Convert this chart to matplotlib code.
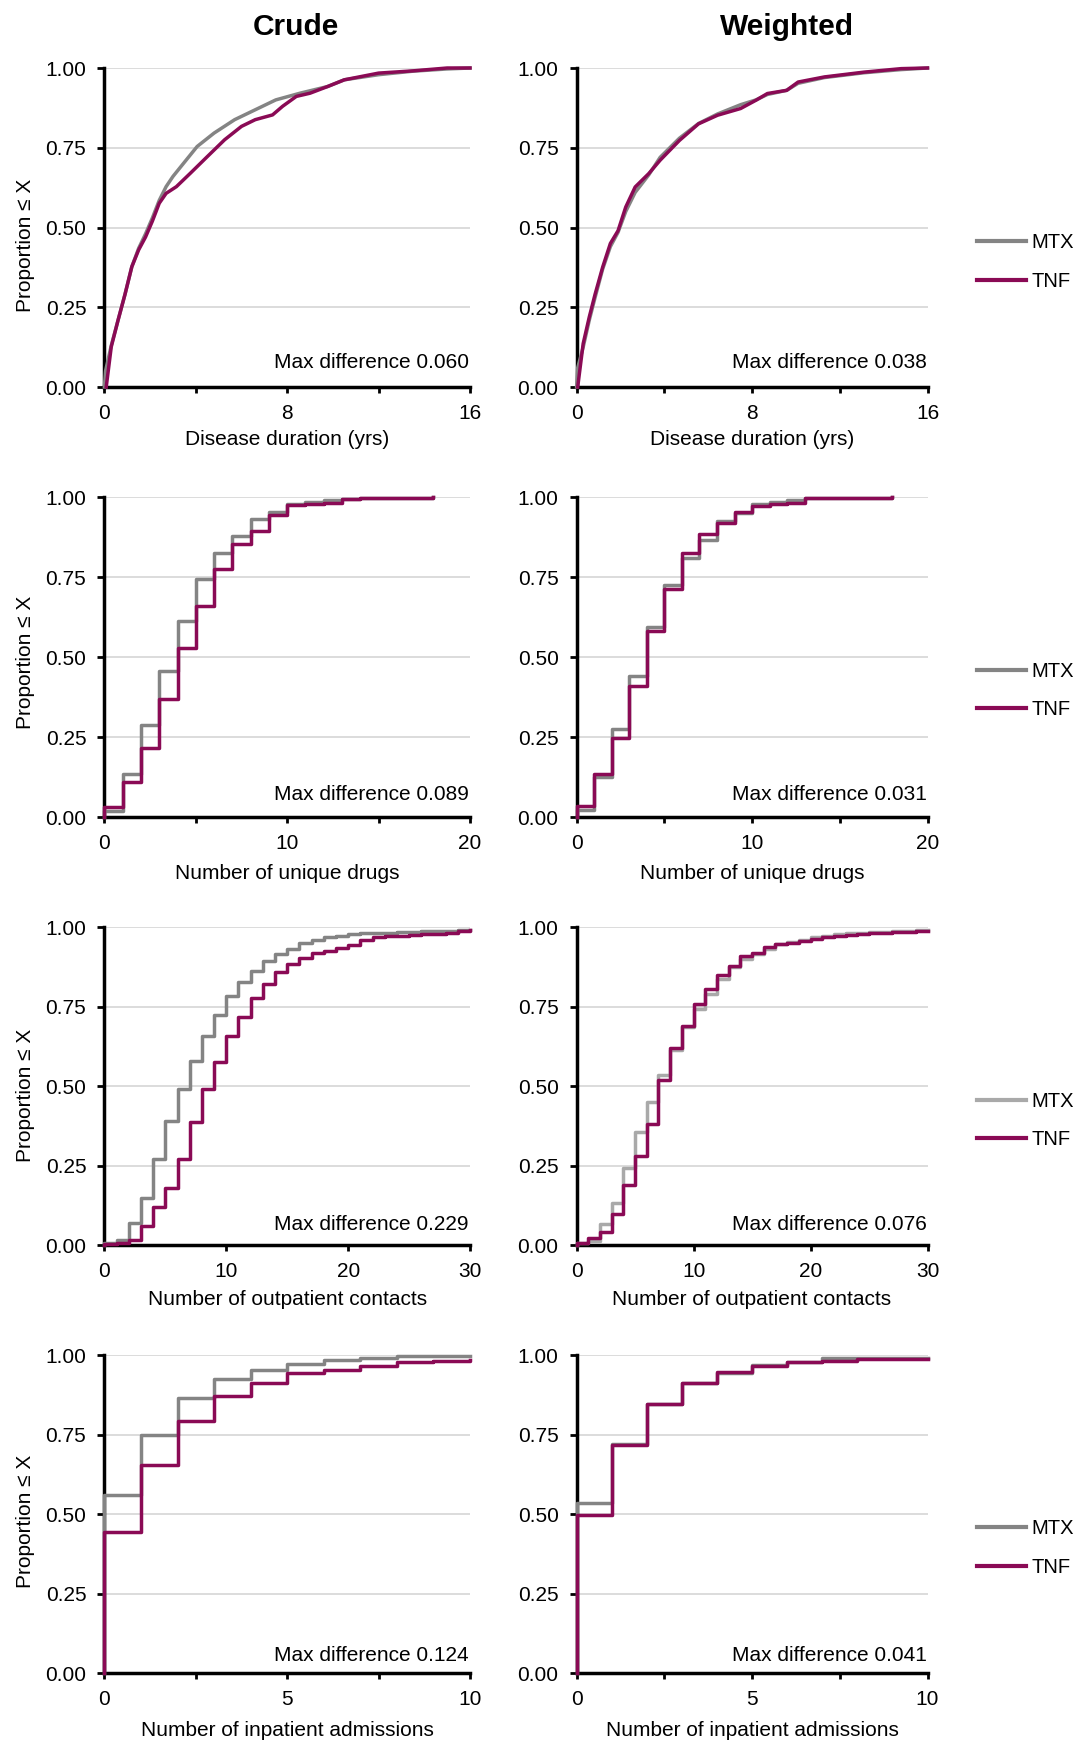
import matplotlib
matplotlib.use("Agg")
import matplotlib.pyplot as plt
from matplotlib.lines import Line2D

plt.rcParams['font.family'] = ['Liberation Sans', 'DejaVu Sans']

W, H = 1081, 1742
MTX_C = '#848484'
MTX_LIGHT = '#a9a9a9'
TNF_C = '#8a0a55'

# ---------------- Row 1: disease duration (continuous ECDF) ----------------
dur_crude_mtx_x = [0, 0.05, 0.3, 0.6, 0.9, 1.2, 1.5, 1.8, 2.1, 2.4, 2.7, 3.0, 3.45, 4.06, 4.8, 5.7, 6.6, 7.5, 8.56, 9.77, 10.5, 12.0, 13.5, 15.0, 16.0]
dur_crude_mtx_y = [0, 0.05, 0.13, 0.21, 0.29, 0.377, 0.435, 0.48, 0.53, 0.585, 0.628, 0.66, 0.70, 0.754, 0.796, 0.838, 0.869, 0.90, 0.921, 0.942, 0.963, 0.979, 0.99, 0.997, 1.0]
dur_crude_tnf_x = [0.08, 0.3, 0.6, 0.9, 1.2, 1.5, 1.8, 2.1, 2.4, 2.7, 3.15, 3.76, 4.5, 5.26, 6.0, 6.6, 7.36, 7.8, 8.4, 9.0, 9.77, 10.5, 12.0, 13.5, 15.0, 16.0]
dur_crude_tnf_y = [0, 0.126, 0.21, 0.29, 0.377, 0.43, 0.47, 0.52, 0.576, 0.607, 0.628, 0.67, 0.722, 0.775, 0.817, 0.838, 0.853, 0.88, 0.911, 0.921, 0.942, 0.963, 0.984, 0.991, 1.0, 1.0]

dur_w_mtx_x = [0, 0.05, 0.3, 0.58, 0.84, 1.19, 1.54, 1.89, 2.24, 2.67, 3.29, 3.81, 4.69, 5.56, 6.43, 7.48, 8.18, 8.7, 9.58, 10.1, 11.3, 13.1, 14.8, 16.0]
dur_w_mtx_y = [0, 0.06, 0.125, 0.21, 0.28, 0.37, 0.44, 0.485, 0.55, 0.61, 0.665, 0.72, 0.78, 0.826, 0.856, 0.885, 0.9, 0.917, 0.93, 0.952, 0.97, 0.985, 0.995, 1.0]
dur_w_tnf_x = [0.05, 0.3, 0.58, 0.84, 1.19, 1.54, 1.89, 2.24, 2.67, 3.29, 3.81, 4.69, 5.56, 6.43, 7.48, 8.18, 8.7, 9.58, 10.1, 11.3, 13.1, 14.8, 16.0]
dur_w_tnf_y = [0, 0.136, 0.22, 0.29, 0.376, 0.45, 0.49, 0.564, 0.627, 0.669, 0.711, 0.773, 0.825, 0.852, 0.873, 0.899, 0.92, 0.93, 0.956, 0.972, 0.987, 0.998, 1.0]

# ---------------- Row 2: number of unique drugs (step) ----------------
drugs_x = list(range(0, 19))
drugs_crude_mtx = [0.02, 0.133, 0.286, 0.456, 0.611, 0.743, 0.825, 0.877, 0.93, 0.953, 0.977, 0.984, 0.99, 0.995, 0.998, 0.998, 0.998, 0.998, 1.0]
drugs_crude_tnf = [0.031, 0.109, 0.217, 0.369, 0.529, 0.658, 0.776, 0.854, 0.894, 0.943, 0.974, 0.979, 0.982, 0.995, 0.997, 0.997, 0.997, 0.998, 1.0]
drugs_w_mtx = [0.021, 0.125, 0.276, 0.44, 0.594, 0.724, 0.81, 0.867, 0.925, 0.951, 0.977, 0.984, 0.99, 0.996, 0.996, 0.996, 0.996, 0.997, 1.0]
drugs_w_tnf = [0.033, 0.133, 0.247, 0.409, 0.581, 0.711, 0.825, 0.885, 0.919, 0.953, 0.972, 0.979, 0.982, 0.996, 0.996, 0.996, 0.996, 0.998, 1.0]

# ---------------- Row 3: outpatient contacts (step) ----------------
outp_x = list(range(0, 31))
outp_crude_mtx = [0.005, 0.016, 0.07, 0.149, 0.272, 0.39, 0.491, 0.58, 0.658, 0.723, 0.782, 0.826, 0.861, 0.893, 0.914, 0.932, 0.949, 0.959, 0.967, 0.972, 0.977, 0.98, 0.98, 0.981, 0.984, 0.985, 0.987, 0.987, 0.987, 0.992, 0.992]
outp_crude_tnf = [0.002, 0.007, 0.016, 0.06, 0.118, 0.178, 0.269, 0.387, 0.491, 0.575, 0.658, 0.718, 0.776, 0.82, 0.86, 0.885, 0.902, 0.918, 0.925, 0.935, 0.943, 0.959, 0.967, 0.972, 0.972, 0.975, 0.977, 0.979, 0.982, 0.987, 0.99]
outp_w_mtx = [0.005, 0.014, 0.066, 0.131, 0.243, 0.356, 0.45, 0.534, 0.613, 0.686, 0.743, 0.79, 0.838, 0.874, 0.9, 0.916, 0.932, 0.948, 0.953, 0.96, 0.967, 0.971, 0.977, 0.981, 0.981, 0.984, 0.984, 0.987, 0.987, 0.991, 0.991]
outp_w_tnf = [0.005, 0.021, 0.042, 0.096, 0.19, 0.28, 0.38, 0.518, 0.62, 0.689, 0.759, 0.806, 0.848, 0.876, 0.908, 0.919, 0.937, 0.945, 0.95, 0.955, 0.962, 0.967, 0.972, 0.976, 0.977, 0.98, 0.981, 0.984, 0.985, 0.986, 0.987]

# ---------------- Row 4: inpatient admissions (step) ----------------
inp_x = list(range(0, 11))
inp_crude_mtx = [0.559, 0.75, 0.864, 0.923, 0.953, 0.972, 0.984, 0.992, 0.996, 0.996, 0.997]
inp_crude_tnf = [0.442, 0.654, 0.793, 0.871, 0.913, 0.942, 0.953, 0.966, 0.977, 0.982, 0.985]
inp_w_mtx = [0.536, 0.72, 0.846, 0.911, 0.942, 0.969, 0.977, 0.992, 0.991, 0.991, 0.991]
inp_w_tnf = [0.496, 0.717, 0.846, 0.911, 0.945, 0.965, 0.977, 0.982, 0.987, 0.987, 0.987]

max_diff_crude = ['0.060', '0.089', '0.229', '0.124']
max_diff_weighted = ['0.038', '0.031', '0.076', '0.041']
xlabels = ['Disease duration (yrs)', 'Number of unique drugs',
           'Number of outpatient contacts', 'Number of inpatient admissions']
x_ticks = [[0, 4, 8, 12, 16], [0, 5, 10, 15, 20], [0, 10, 20, 30], [0, 2.5, 5, 7.5, 10]]
x_ticklabels = [['0', '', '8', '', '16'], ['0', '', '10', '', '20'],
                ['0', '10', '20', '30'], ['0', '', '5', '', '10']]
x_max = [16, 20, 30, 10]
y_ticks = [0, 0.25, 0.5, 0.75, 1.0]
series_names = ['MTX', 'TNF']
col_titles = ['Crude', 'Weighted']

# ---------------- layout (pixels) ----------------
row_top = [68, 497, 927, 1355]
row_bot = [387, 817, 1245, 1673]
col_left = [104.4, 576.6]
col_right = [470, 927.5]
xlabel_pad = [5.5, 8.5, 7, 9]
ylabel_y = [0.445, 0.484, 0.469, 0.478]
maxdiff_y = [0.076, 0.070, 0.064, 0.055]
legend_y = [262, 690.5, 1120.5, 1548]
FS = 15

fig = plt.figure(figsize=(W / 100, H / 100), dpi=100)

def ecdf_step(xs, ys):
    return [xs[0]] + list(xs), [0] + list(ys)

panels = [
    [('line', dur_crude_mtx_x, dur_crude_mtx_y, dur_crude_tnf_x, dur_crude_tnf_y),
     ('line', dur_w_mtx_x, dur_w_mtx_y, dur_w_tnf_x, dur_w_tnf_y)],
    [('step', drugs_x, drugs_crude_mtx, drugs_x, drugs_crude_tnf),
     ('step', drugs_x, drugs_w_mtx, drugs_x, drugs_w_tnf)],
    [('step', outp_x, outp_crude_mtx, outp_x, outp_crude_tnf),
     ('step', outp_x, outp_w_mtx, outp_x, outp_w_tnf)],
    [('step', inp_x, inp_crude_mtx, inp_x, inp_crude_tnf),
     ('step', inp_x, inp_w_mtx, inp_x, inp_w_tnf)],
]
mtx_colors = [[MTX_C, MTX_C], [MTX_C, MTX_C], [MTX_C, MTX_LIGHT], [MTX_C, MTX_C]]

for r in range(4):
    for c in range(2):
        l = col_left[c] / W
        w = (col_right[c] - col_left[c]) / W
        b = 1 - row_bot[r] / H
        h = (row_bot[r] - row_top[r]) / H
        ax = fig.add_axes([l, b, w, h])
        kind, mx, my, tx, ty = panels[r][c]
        mc = mtx_colors[r][c]
        if kind == 'line':
            ax.plot(mx, my, color=mc, lw=2.5, clip_on=False, zorder=6)
            ax.plot(tx, ty, color=TNF_C, lw=2.5, clip_on=False, zorder=7)
        else:
            sx, sy = ecdf_step(mx, my)
            ax.step(sx, sy, where='post', color=mc, lw=2.5, clip_on=False, zorder=6)
            sx, sy = ecdf_step(tx, ty)
            ax.step(sx, sy, where='post', color=TNF_C, lw=2.5, clip_on=False, zorder=7)
        ax.set_xlim(0, x_max[r])
        ax.set_ylim(0, 1)
        ax.set_yticks(y_ticks)
        ax.set_yticklabels(['%.2f' % v for v in y_ticks])
        ax.set_xticks(x_ticks[r])
        ax.set_xticklabels(x_ticklabels[r])
        ax.grid(axis='y', color='#d9d9d9', lw=1.3, zorder=0)
        ax.set_axisbelow(True)
        for s in ['top', 'right']:
            ax.spines[s].set_visible(False)
        for s in ['left', 'bottom']:
            ax.spines[s].set_linewidth(2.5)
            ax.spines[s].set_color('black')
            ax.spines[s].set_zorder(5)
        ax.tick_params(axis='y', direction='out', length=5, width=2, pad=8, labelsize=FS)
        ax.tick_params(axis='x', direction='out', length=4, width=2, pad=8, labelsize=FS)
        ax.set_xlabel(xlabels[r], fontsize=FS, labelpad=xlabel_pad[r])
        if c == 0:
            ax.set_ylabel('Proportion \u2264 X', fontsize=FS)
            ax.yaxis.set_label_coords(-0.19, ylabel_y[r])
        md = max_diff_crude[r] if c == 0 else max_diff_weighted[r]
        ax.text(0.997, maxdiff_y[r], 'Max difference ' + md, transform=ax.transAxes,
                ha='right', va='center', fontsize=FS)
        if c == 1:
            handles = [Line2D([], [], color=mc, lw=3),
                       Line2D([], [], color=TNF_C, lw=3)]
            fig.legend(handles, series_names, loc='center left',
                       bbox_to_anchor=(977 / W, 1 - legend_y[r] / H),
                       frameon=False, fontsize=14.5, handlelength=2.45,
                       handletextpad=0.25, labelspacing=0.95,
                       borderpad=0, borderaxespad=0)

fig.text(296 / W, 1 - 27 / H, col_titles[0], ha='center', va='center',
         fontsize=21.5, fontweight='bold')
fig.text(786.5 / W, 1 - 27 / H, col_titles[1], ha='center', va='center',
         fontsize=21.5, fontweight='bold')

fig.savefig('out.png', dpi=100)
